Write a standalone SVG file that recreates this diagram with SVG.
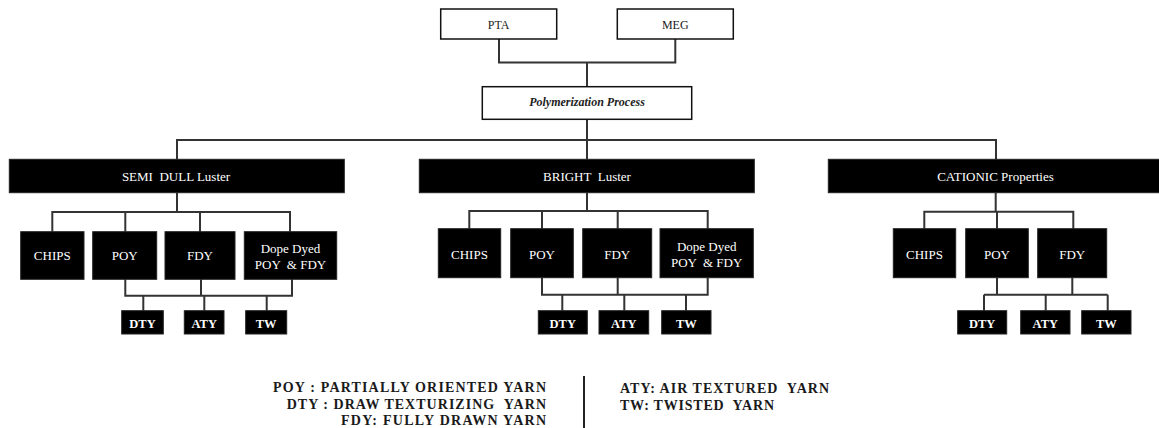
<svg xmlns="http://www.w3.org/2000/svg" width="1159" height="428" viewBox="0 0 1159 428">
<style>
.wbox{fill:#fff;stroke:#111;stroke-width:1.5}
.bbox{fill:#000;stroke:#222;stroke-width:1}
text{font-family:'Liberation Serif','Times New Roman',Times,'DejaVu Serif','Noto Serif',serif}
.wt{font-size:12px;fill:#222;text-anchor:middle}
.bt{font-size:13px;fill:#fff;text-anchor:middle}
.st{font-size:12.5px;font-weight:bold;fill:#fff;text-anchor:middle}
.lg{font-size:14px;font-weight:bold;fill:#1a1a1a}
.cn{fill:none;stroke:#333;stroke-width:2}
</style>
<rect width="1159" height="428" fill="#fff"/>
<g id="connectors" class="cn">
<path d="M499,39 V62.5 H675.3 V39 M587,62.5 V87"/>
<path d="M587,119.3 V159.3 M177,159.3 V140 H996 V159.3"/>
<path d="M177,192.7 V212 M52.3,231.7 V212 H290 V231.7 M125.3,212 V231.7 M200,212 V231.7"/>
<path d="M125.3,279.3 V295.7 H292 V279.3 M201,279.3 V295.7 M143.3,295.7 V310.7 M204.3,295.7 V310.7 M266.7,295.7 V310.7"/>
<path d="M587,192.7 V211 M469.3,228.7 V211 H707.7 V228.7 M542,211 V228.7 M617.7,211 V228.7"/>
<path d="M542,277.7 V294.7 H707.7 V277.7 M617.7,277.7 V294.7 M562.3,294.7 V310.7 M624.3,294.7 V310.7 M686,294.7 V310.7"/>
<path d="M995.7,192.7 V211.7 M924.3,228.7 V211.7 H1073.3 V228.7 M997,211.7 V228.7"/>
<path d="M997,277.7 V294.7 M1072.3,277.7 V294.7 M984,294.7 H1107.7 M984,294.7 V310.7 M1045.7,294.7 V310.7 M1107.7,294.7 V310.7"/>
<path d="M584,376 V428" stroke="#222"/>
</g>
<g id="pta"><rect class="wbox" x="440.7" y="9" width="116" height="30"/><text class="wt" x="498.7" y="29.3" font-family="Liberation Serif, serif">PTA</text></g>
<g id="meg"><rect class="wbox" x="617.3" y="9" width="116" height="30"/><text class="wt" x="675.3" y="29.3">MEG</text></g>
<g id="poly"><rect class="wbox" x="482.3" y="86.7" width="209.4" height="32.6"/><text class="wt" x="587" y="106" font-style="italic" font-weight="bold">Polymerization Process</text></g>

<g id="semidull"><rect class="bbox" x="9.3" y="159.3" width="335" height="33.4"/><text class="bt" x="176" y="180.7" xml:space="preserve">SEMI  DULL Luster</text></g>
<g id="sd-chips"><rect class="bbox" x="20.7" y="231.7" width="63.3" height="47.6"/><text class="bt" x="52.3" y="260">CHIPS</text></g>
<g id="sd-poy"><rect class="bbox" x="92.7" y="231.7" width="64" height="47.6"/><text class="bt" x="124.7" y="260">POY</text></g>
<g id="sd-fdy"><rect class="bbox" x="165" y="231.7" width="70" height="47.6"/><text class="bt" x="200" y="260">FDY</text></g>
<g id="sd-dope"><rect class="bbox" x="244.3" y="231.7" width="92.4" height="47.6"/><text class="bt" x="290.5" y="252.7">Dope Dyed</text><text class="bt" x="290.5" y="269" xml:space="preserve">POY  &amp; FDY</text></g>
<g id="sd-dty"><rect class="bbox" x="121.7" y="310.7" width="41.6" height="23.3"/><text class="st" x="142.5" y="328">DTY</text></g>
<g id="sd-aty"><rect class="bbox" x="184.3" y="310.7" width="39.7" height="23.3"/><text class="st" x="204.2" y="328">ATY</text></g>
<g id="sd-tw"><rect class="bbox" x="245.7" y="310.7" width="41" height="23.3"/><text class="st" x="266.2" y="328">TW</text></g>

<g id="bright"><rect class="bbox" x="419.3" y="159.3" width="335" height="33.4"/><text class="bt" x="587" y="180.7" xml:space="preserve">BRIGHT  Luster</text></g>
<g id="br-chips"><rect class="bbox" x="438.3" y="228.7" width="62.4" height="49"/><text class="bt" x="469.5" y="259">CHIPS</text></g>
<g id="br-poy"><rect class="bbox" x="510.7" y="228.7" width="62.6" height="49"/><text class="bt" x="542" y="259">POY</text></g>
<g id="br-fdy"><rect class="bbox" x="582.7" y="228.7" width="69" height="49"/><text class="bt" x="617.2" y="259">FDY</text></g>
<g id="br-dope"><rect class="bbox" x="660" y="228.7" width="93.3" height="49"/><text class="bt" x="706.7" y="250.7">Dope Dyed</text><text class="bt" x="706.7" y="266.7" xml:space="preserve">POY  &amp; FDY</text></g>
<g id="br-dty"><rect class="bbox" x="538.3" y="310.7" width="49" height="23.3"/><text class="st" x="562.8" y="328">DTY</text></g>
<g id="br-aty"><rect class="bbox" x="599" y="310.7" width="49.7" height="23.3"/><text class="st" x="623.8" y="328">ATY</text></g>
<g id="br-tw"><rect class="bbox" x="661.7" y="310.7" width="49.3" height="23.3"/><text class="st" x="686.3" y="328">TW</text></g>

<g id="cationic"><rect class="bbox" x="828.3" y="159.3" width="335" height="33.4"/><text class="bt" x="995.5" y="180.7">CATIONIC Properties</text></g>
<g id="ca-chips"><rect class="bbox" x="893.3" y="228.7" width="62.4" height="49"/><text class="bt" x="924.5" y="259">CHIPS</text></g>
<g id="ca-poy"><rect class="bbox" x="965.7" y="228.7" width="62.6" height="49"/><text class="bt" x="997" y="259">POY</text></g>
<g id="ca-fdy"><rect class="bbox" x="1037.7" y="228.7" width="69" height="49"/><text class="bt" x="1072.2" y="259">FDY</text></g>
<g id="ca-dty"><rect class="bbox" x="957.7" y="310.7" width="49" height="23.3"/><text class="st" x="982.2" y="328">DTY</text></g>
<g id="ca-aty"><rect class="bbox" x="1020.7" y="310.7" width="49.3" height="23.3"/><text class="st" x="1045.3" y="328">ATY</text></g>
<g id="ca-tw"><rect class="bbox" x="1081.7" y="310.7" width="49.3" height="23.3"/><text class="st" x="1106.3" y="328">TW</text></g>

<g id="legend">
<text class="lg" x="273" y="392" textLength="273" lengthAdjust="spacing">POY : PARTIALLY ORIENTED YARN</text>
<text class="lg" x="286.7" y="408.5" textLength="259.3" lengthAdjust="spacing" xml:space="preserve">DTY : DRAW TEXTURIZING  YARN</text>
<text class="lg" x="341" y="425" textLength="205" lengthAdjust="spacing">FDY: FULLY DRAWN YARN</text>
<text class="lg" x="620" y="393" textLength="209" lengthAdjust="spacing" xml:space="preserve">ATY: AIR TEXTURED  YARN</text>
<text class="lg" x="620" y="409.5" textLength="154" lengthAdjust="spacing" xml:space="preserve">TW: TWISTED  YARN</text>
</g>
</svg>
